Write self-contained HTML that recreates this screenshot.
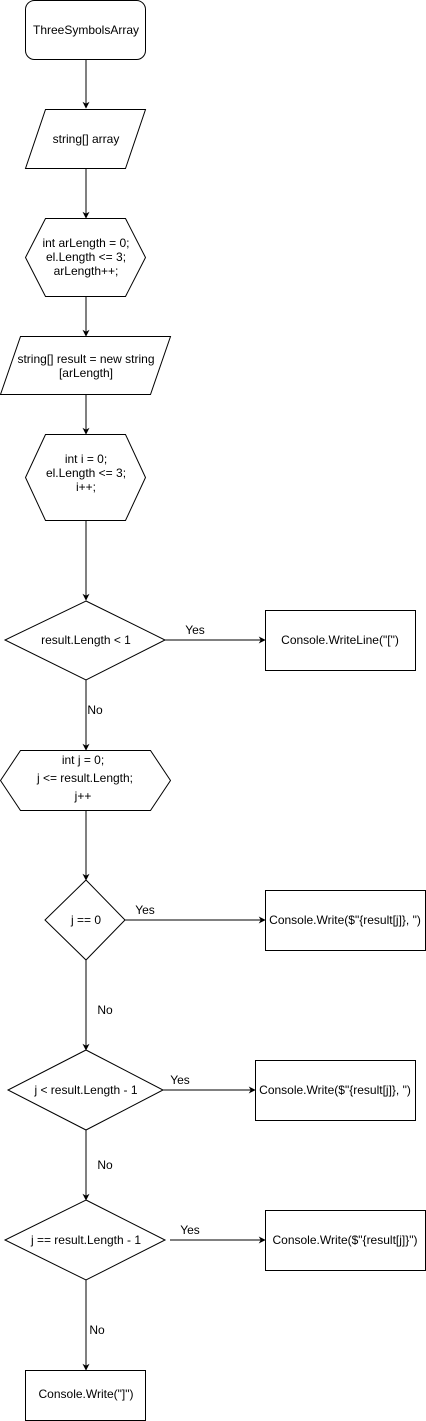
<!DOCTYPE html>
<html><head><meta charset="utf-8"><style>html,body{margin:0;padding:0;background:#fff}svg{display:block}</style></head><body>
<svg width="426" height="1421" viewBox="0 0 426 1421" xmlns="http://www.w3.org/2000/svg" font-family="Liberation Sans, Arial, sans-serif" font-size="12" fill="#000">
<defs><marker id="a" viewBox="0 0 10 10" refX="9" refY="5" markerWidth="7" markerHeight="7" orient="auto"><path d="M0,0 L10,5 L0,10 L3,5 z" fill="#000"/></marker></defs>
<g stroke="#000" stroke-width="1" fill="#fff">
<rect x="25.5" y="0.5" width="120" height="59" rx="9"/>
<polygon points="45.5,109.5 145.5,109.5 125.5,168.5 25.5,168.5"/>
<polygon points="45.5,218.5 125.5,218.5 145.5,257.5 125.5,296.5 45.5,296.5 25.5,257.5"/>
<polygon points="20.5,336.5 170.5,336.5 150.5,394.5 0.5,394.5"/>
<polygon points="45.5,434.5 125.5,434.5 145.5,477.5 125.5,520.5 45.5,520.5 25.5,477.5"/>
<polygon points="86,601 165,640 86,680 5,640"/>
<rect x="265.5" y="610.5" width="150" height="60"/>
<polygon points="20.5,750.5 150.5,750.5 170.5,780.5 150.5,810.5 20.5,810.5 0.5,780.5"/>
<polygon points="86,880 125,920 86,960 45,920"/>
<rect x="265.5" y="890.5" width="160" height="60"/>
<polygon points="86,1050 163,1090 86,1130 8,1090"/>
<rect x="255.5" y="1060.5" width="160" height="60"/>
<polygon points="86,1200 165,1240 86,1280 5,1240"/>
<rect x="265.5" y="1210.5" width="160" height="60"/>
<rect x="25.5" y="1370.5" width="120" height="50"/>
</g>
<g stroke="#000" stroke-width="1" fill="none" marker-end="url(#a)">
<line x1="86" y1="60" x2="86" y2="108"/>
<line x1="86" y1="169" x2="86" y2="218"/>
<line x1="86" y1="297" x2="86" y2="336"/>
<line x1="86" y1="395" x2="86" y2="434"/>
<line x1="86" y1="521" x2="86" y2="600"/>
<line x1="165" y1="640" x2="265" y2="640"/>
<line x1="86" y1="680" x2="86" y2="750"/>
<line x1="86" y1="811" x2="86" y2="880"/>
<line x1="125" y1="920" x2="265" y2="920"/>
<line x1="86" y1="960" x2="86" y2="1050"/>
<line x1="163" y1="1090" x2="255" y2="1090"/>
<line x1="86" y1="1130" x2="86" y2="1200"/>
<line x1="170" y1="1240" x2="265" y2="1240"/>
<line x1="86" y1="1280" x2="86" y2="1370"/>
</g>
<g text-anchor="middle" fill="#000">
<text x="86" y="34">ThreeSymbolsArray</text>
<text x="86" y="143">string[] array</text>
<text x="86" y="247">int arLength = 0;</text>
<text x="86" y="261">el.Length &lt;= 3;</text>
<text x="86" y="275">arLength++;</text>
<text x="86" y="363">string[] result = new string</text>
<text x="86" y="377">[arLength]</text>
<text x="86" y="463">int i = 0;</text>
<text x="86" y="477">el.Length &lt;= 3;</text>
<text x="86" y="491">i++;</text>
<text x="86" y="644">result.Length &lt; 1</text>
<text x="340" y="644">Console.WriteLine("[")</text>
<text x="83" y="764">int j = 0;</text>
<text x="85" y="782">j &lt;= result.Length;</text>
<text x="83" y="800">j++</text>
<text x="86" y="924">j == 0</text>
<text x="345" y="924">Console.Write($"{result[j]}, ")</text>
<text x="86" y="1094">j &lt; result.Length - 1</text>
<text x="335" y="1094">Console.Write($"{result[j]}, ")</text>
<text x="86" y="1244">j == result.Length - 1</text>
<text x="345" y="1244">Console.Write($"{result[j]}")</text>
<text x="86" y="1398">Console.Write("]")</text>
<text x="195" y="634">Yes</text>
<text x="145" y="914">Yes</text>
<text x="180" y="1084">Yes</text>
<text x="190" y="1234">Yes</text>
<text x="95" y="714">No</text>
<text x="105" y="1014">No</text>
<text x="105" y="1169">No</text>
<text x="97" y="1334">No</text>
</g>
</svg>
</body></html>
